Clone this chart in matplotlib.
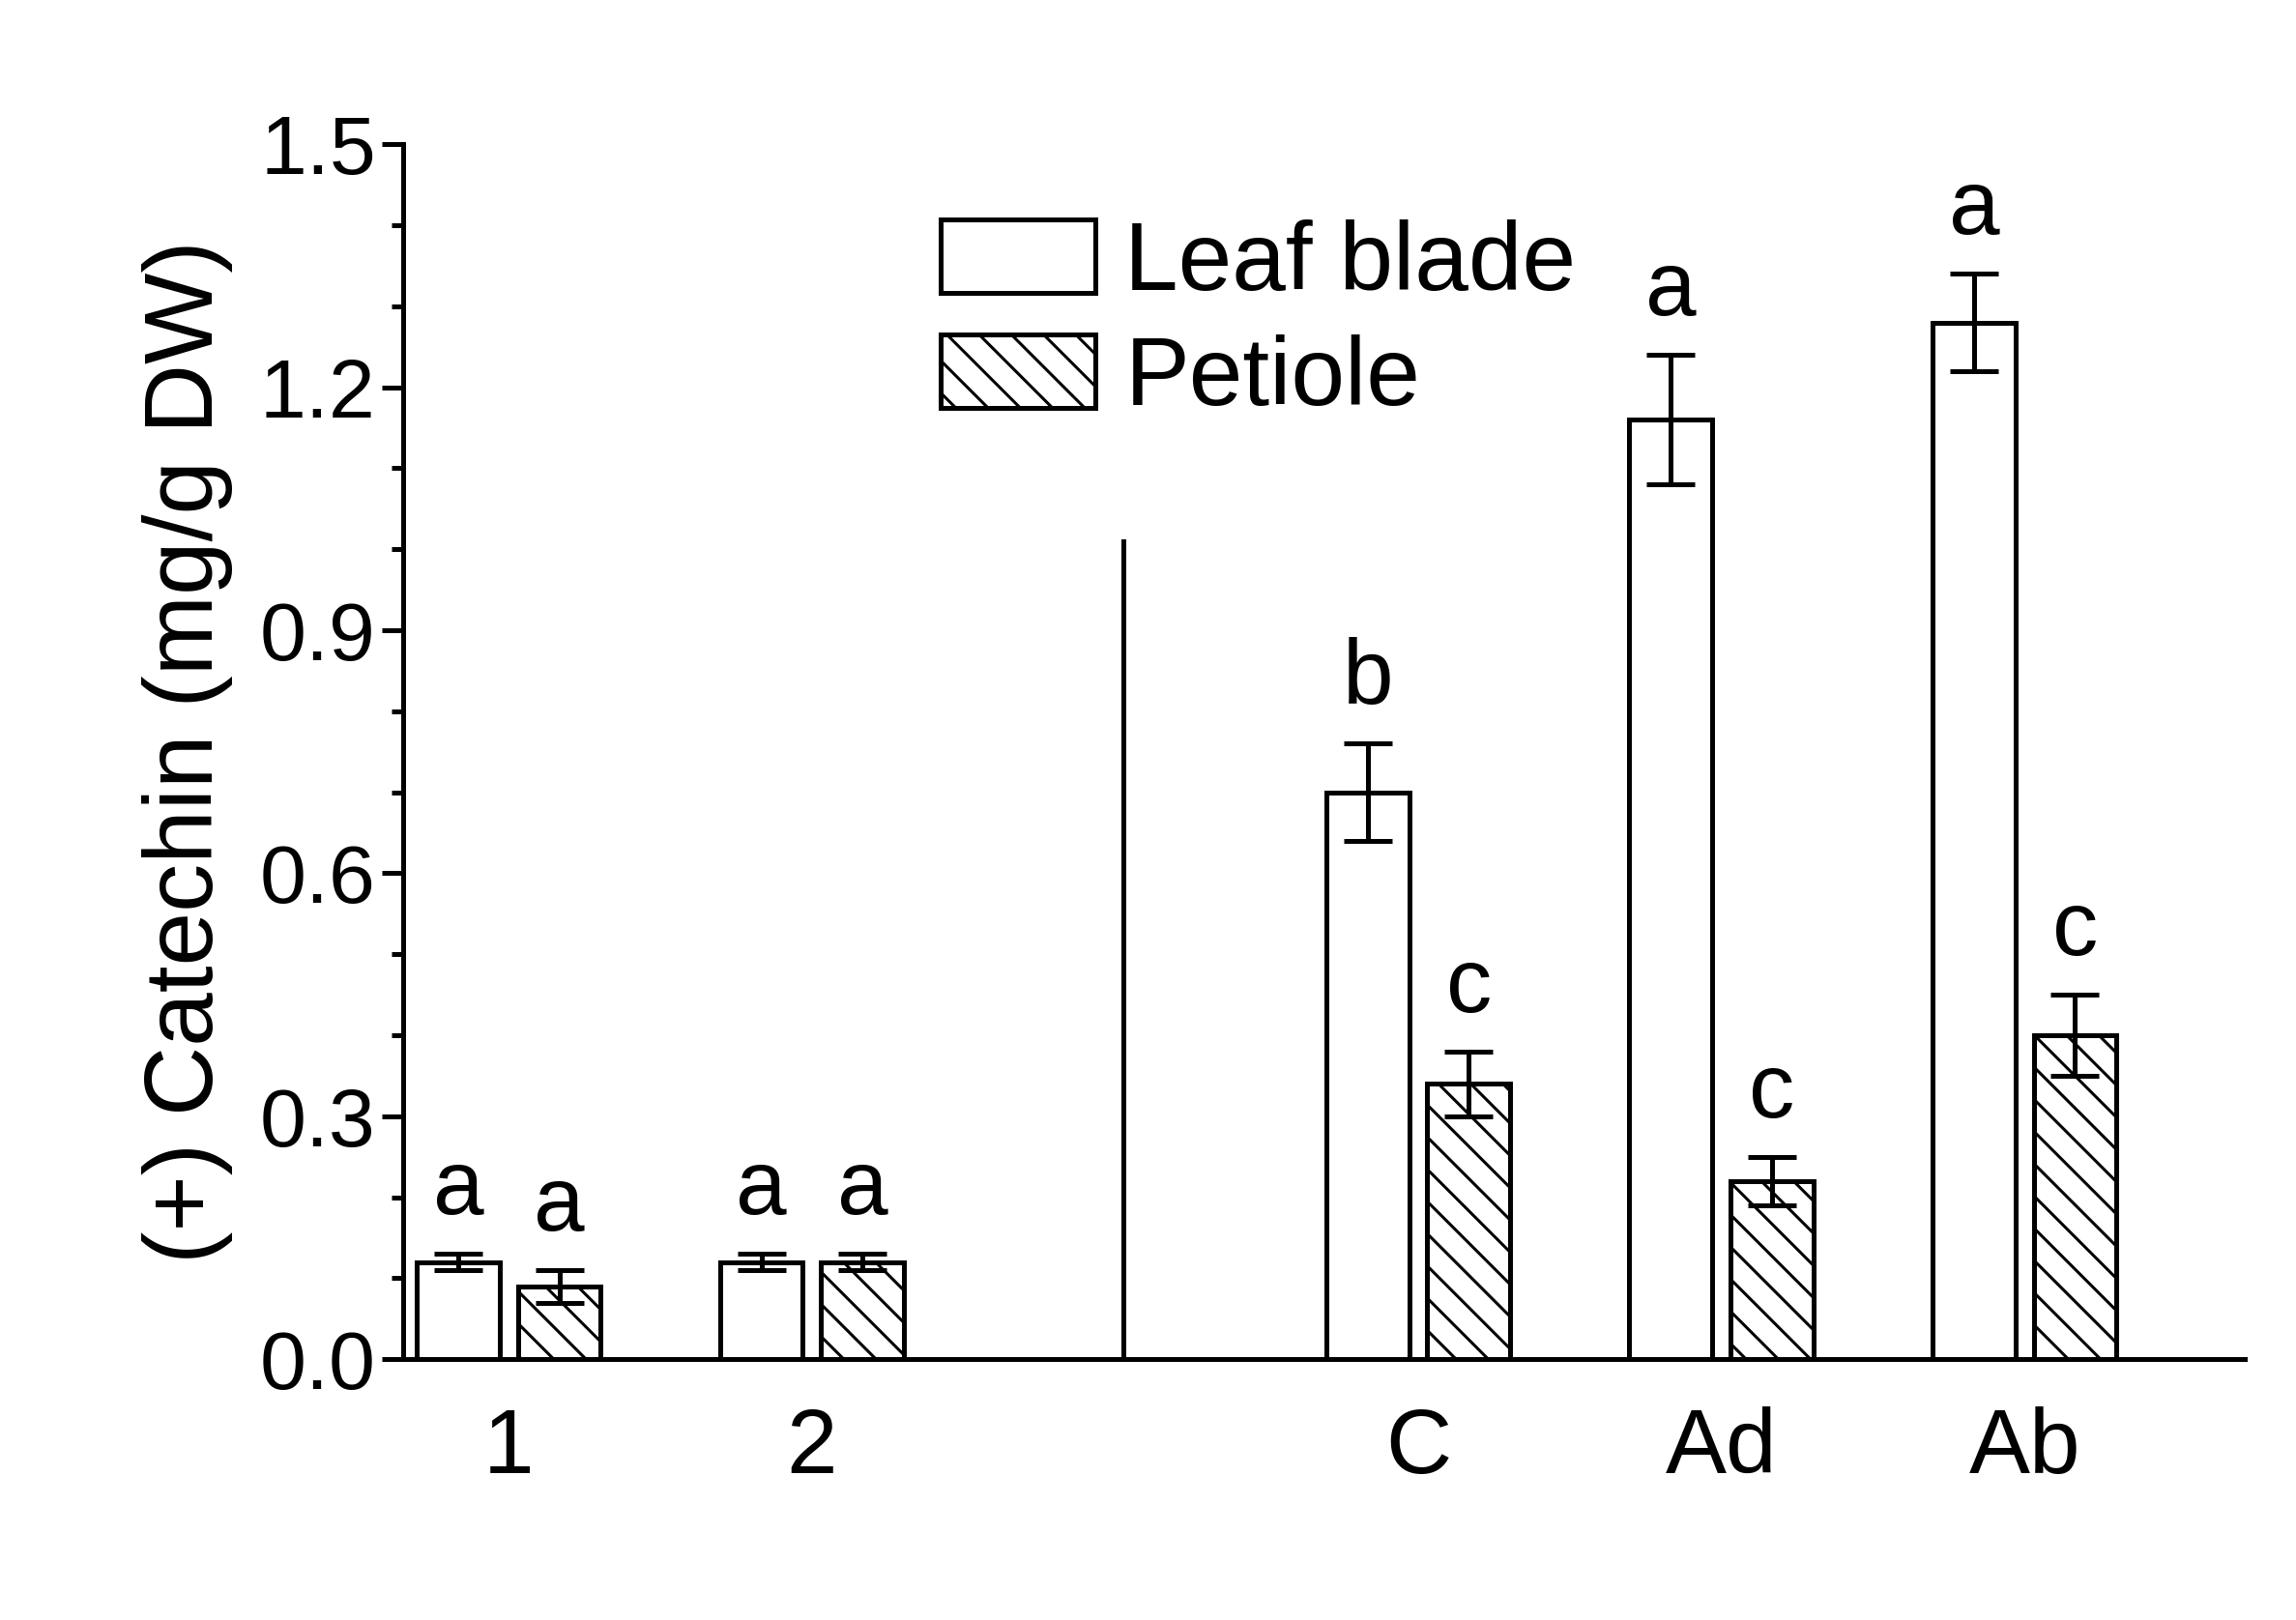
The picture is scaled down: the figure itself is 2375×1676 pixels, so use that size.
import matplotlib.pyplot as plt
import numpy as np
from matplotlib.ticker import MultipleLocator

plt.rcParams['font.family'] = ['Liberation Sans', 'DejaVu Sans']
plt.rcParams['hatch.linewidth'] = 2.2

groups = ["1", "2", "C", "Ad", "Ab"]
centers = np.array([1, 4, 10, 13, 16])
blade = [0.12, 0.12, 0.70, 1.16, 1.28]
blade_err = [0.01, 0.01, 0.06, 0.08, 0.06]
petiole = [0.09, 0.12, 0.34, 0.22, 0.40]
petiole_err = [0.02, 0.01, 0.04, 0.03, 0.05]
blade_letters = ["a", "a", "b", "a", "a"]
petiole_letters = ["a", "a", "c", "c", "c"]

fig = plt.figure(figsize=(23.75, 16.76), dpi=100)
ax = fig.add_axes([0.1754, 0.161, 0.8023, 0.75])

lw = 3.6
w = 0.82
ekw = dict(elinewidth=lw, capsize=18, capthick=lw, ecolor="black")
ax.bar(centers - 0.45, blade, w, yerr=blade_err, color="white", edgecolor="black",
       linewidth=lw, error_kw=ekw, label="Leaf blade")
ax.bar(centers + 0.55, petiole, w, yerr=petiole_err, color="white", edgecolor="black",
       linewidth=lw, hatch="\\", error_kw=ekw, label="Petiole")

for x, v, e, t in zip(centers - 0.45, blade, blade_err, blade_letters):
    ax.text(x, v + e + 0.025, t, ha="center", va="bottom", fontsize=68)
for x, v, e, t in zip(centers + 0.55, petiole, petiole_err, petiole_letters):
    ax.text(x, v + e + 0.025, t, ha="center", va="bottom", fontsize=68)

# divider between the two experiments
ax.plot([7.13, 7.13], [0, 1.01], color="black", lw=lw)

ax.set_xlim(0, 18.23)
ax.set_ylim(0, 1.5)
ax.set_xticks(centers + 0.05)
ax.set_xticklabels(groups, fontsize=68)
ax.tick_params(axis="x", length=0, pad=35)
ax.yaxis.set_major_locator(MultipleLocator(0.3))
ax.yaxis.set_minor_locator(MultipleLocator(0.1))
ax.yaxis.set_major_formatter(plt.FormatStrFormatter("%.1f"))
ax.tick_params(axis="y", which="major", length=16, width=lw, labelsize=62, pad=4)
ax.tick_params(axis="y", which="minor", length=9, width=lw)
for s in ["top", "right"]:
    ax.spines[s].set_visible(False)
for s in ["left", "bottom"]:
    ax.spines[s].set_linewidth(lw)
ax.set_ylabel("(+) Catechin (mg/g DW)", fontsize=72, labelpad=20)

ax.legend(loc="upper left", bbox_to_anchor=(0.245, 1.01), frameon=False, fontsize=72,
          handlelength=1.6, handleheight=0.8, handletextpad=0.3, labelspacing=0.25)

fig.savefig("out.png", dpi=100)
